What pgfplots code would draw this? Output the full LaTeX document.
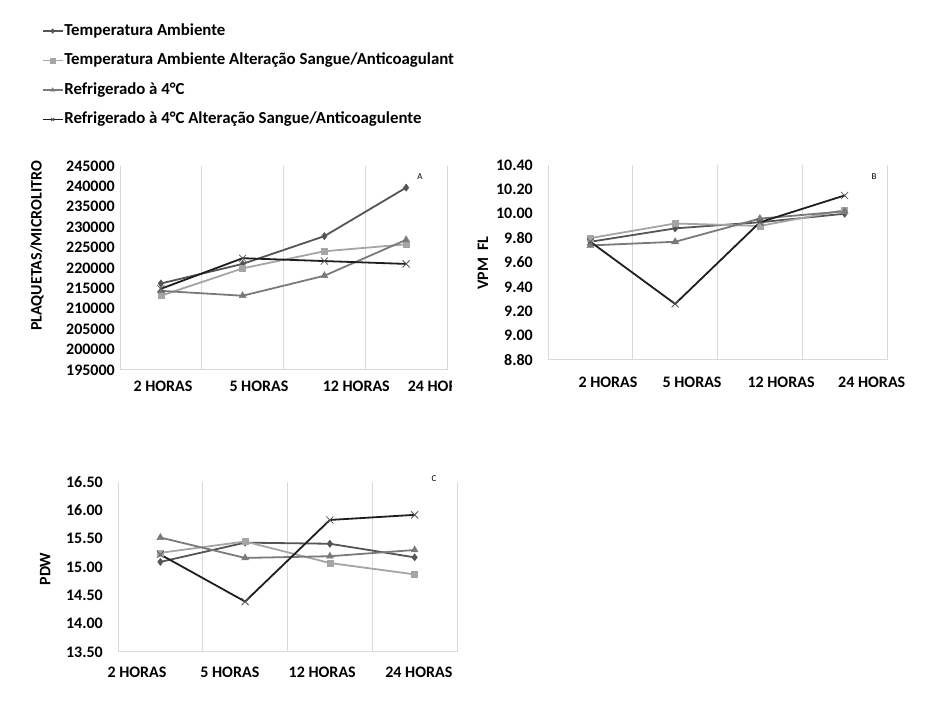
\documentclass[border=0pt]{standalone}
\usepackage{pgfplots}
\pgfplotsset{compat=1.18}
\usepackage{fontspec}
\usepackage{trimclip}
\setmainfont{Carlito}
\newcommand\lab{\fontsize{16}{19}\selectfont\bfseries}
\newcommand\leg{\fontsize{16.8}{20}\selectfont\bfseries}

\definecolor{cTA}{HTML}{555555}
\definecolor{cTAA}{HTML}{A5A5A5}
\definecolor{cR}{HTML}{7A7A7A}
\definecolor{cRA}{HTML}{1E1E1E}
\definecolor{gridc}{HTML}{D9D9D9}

\pgfplotsset{
  panel/.style={
    scale only axis,
    anchor=south west,
    xmin=0, xmax=4,
    clip=false,
    axis x line*=bottom,
    axis y line*=left,
    x axis line style={gridc, line width=1pt, -},
    y axis line style={draw=none},
    major tick length=0pt,
    minor tick length=0pt,
    minor xtick={0,1,2,3,4},
    xminorgrids,
    minor grid style={gridc, line width=0.9pt},
    tick label style={font=\lab, inner sep=0pt},
    /pgf/number format/assume math mode=true,
    every axis y label/.style={rotate=90, anchor=center, font=\lab},
  },
  serTA/.style={cTA, line width=1.8pt, mark=diamond*, mark size=3.6pt, mark options={solid, fill=cTA, line width=0.5pt}},
  serTAA/.style={cTAA, line width=1.8pt, mark=square*, mark size=3pt, mark options={solid, fill=cTAA, line width=0.5pt}},
  serR/.style={cR, line width=1.8pt, mark=triangle*, mark size=4pt, mark options={solid, fill=cR, line width=0.5pt}},
  serRA/.style={cRA, line width=1.8pt, mark=x, mark size=5pt, mark options={solid, draw=cTA, line width=0.8pt}},
}

\begin{document}
\begin{tikzpicture}
\useasboundingbox (0,0) rectangle (947pt,719pt);

% A
\begin{axis}[panel,
  at={(120pt,349pt)}, width=327pt, height=204pt,
  ymin=195000, ymax=245000, ytick distance=5000,
  scaled y ticks=false,
  yticklabel style={xshift=-5pt, /pgf/number format/.cd, fixed, set thousands separator={}},
  xtick={0.526,1.70,2.89,3.93},
  xticklabels={2 HORAS, 5 HORAS, 12 HORAS, {\makebox[67pt][l]{\clipbox{0pt 0pt 23pt 0pt}{24 HORAS}}}},
  xticklabel style={anchor=center, yshift=-16pt},
  ylabel={PLAQUETAS/MICROLITRO},
  every axis y label/.append style={at={(axis description cs:-0.254,0.608)}},
  legend style={at={(axis description cs:-0.2385,1.697)}, anchor=north west,
    draw=none, fill=none, inner sep=0pt, outer sep=0pt,
    font=\leg, row sep=15pt, column sep=1pt,
    nodes={inner sep=0pt, text height=11.5pt, text depth=3pt}},
  legend cell align=left,
  legend image code/.code={
    \draw[#1, line width=1.3pt, mark=none] (0pt,0pt) -- (20pt,0pt);
    \draw[#1, line width=1.3pt, mark size=2.3pt, only marks] plot coordinates {(10pt,0pt)};
  },
]
\addplot[serTA] coordinates {(0.5,216200) (1.5,221000) (2.5,227800) (3.5,239700)};
\addplot[serTAA] coordinates {(0.5,213200) (1.5,219900) (2.5,224100) (3.5,225800)};
\addplot[serR] coordinates {(0.5,214400) (1.5,213200) (2.5,218100) (3.5,226900)};
\addplot[serRA] coordinates {(0.5,214900) (1.5,222400) (2.5,221700) (3.5,221000)};
\legend{Temperatura Ambiente, Temperatura Ambiente Alteração Sangue/Anticoagulant, Refrigerado à 4°C, Refrigerado à 4°C Alteração Sangue/Anticoagulente}
\node[font=\fontsize{9}{10}\selectfont] at (axis description cs:0.917,0.946) {A};
\end{axis}

% B
\begin{axis}[panel,
  at={(548pt,359pt)}, width=339pt, height=195pt,
  ymin=8.8, ymax=10.4, ytick distance=0.2,
  yticklabel style={xshift=-15pt, /pgf/number format/.cd, fixed, fixed zerofill, precision=2},
  xtick={0.708,1.70,2.75,3.82},
  xticklabels={2 HORAS, 5 HORAS, 12 HORAS, 24 HORAS},
  xticklabel style={anchor=center, yshift=-22pt},
  ylabel={VPM\ \ FL},
  every axis y label/.append style={at={(axis description cs:-0.192,0.497)}},
]
\addplot[serTA] coordinates {(0.5,9.77) (1.5,9.88) (2.5,9.93) (3.5,10.00)};
\addplot[serTAA] coordinates {(0.5,9.80) (1.5,9.92) (2.5,9.90) (3.5,10.03)};
\addplot[serR] coordinates {(0.5,9.74) (1.5,9.77) (2.5,9.96) (3.5,10.02)};
\addplot[serRA] coordinates {(0.5,9.77) (1.5,9.26) (2.5,9.93) (3.5,10.15)};
\node[font=\fontsize{9}{10}\selectfont] at (axis description cs:0.962,0.938) {B};
\end{axis}

% C
\begin{axis}[panel,
  at={(118pt,67pt)}, width=339pt, height=170pt,
  ymin=13.5, ymax=16.5, ytick distance=0.5,
  yticklabel style={xshift=-15pt, /pgf/number format/.cd, fixed, fixed zerofill, precision=2},
  xtick={0.224,1.32,2.41,3.55},
  xticklabels={2 HORAS, 5 HORAS, 12 HORAS, 24 HORAS},
  xticklabel style={anchor=center, yshift=-20pt},
  ylabel={PDW},
  every axis y label/.append style={at={(axis description cs:-0.215,0.488)}},
]
\addplot[serTA] coordinates {(0.5,15.09) (1.5,15.43) (2.5,15.41) (3.5,15.17)};
\addplot[serTAA] coordinates {(0.5,15.25) (1.5,15.45) (2.5,15.07) (3.5,14.87)};
\addplot[serR] coordinates {(0.5,15.52) (1.5,15.16) (2.5,15.19) (3.5,15.30)};
\addplot[serRA] coordinates {(0.5,15.22) (1.5,14.39) (2.5,15.83) (3.5,15.92)};
\node[font=\fontsize{9}{10}\selectfont] at (axis description cs:0.932,1.02) {C};
\end{axis}
\end{tikzpicture}
\end{document}
